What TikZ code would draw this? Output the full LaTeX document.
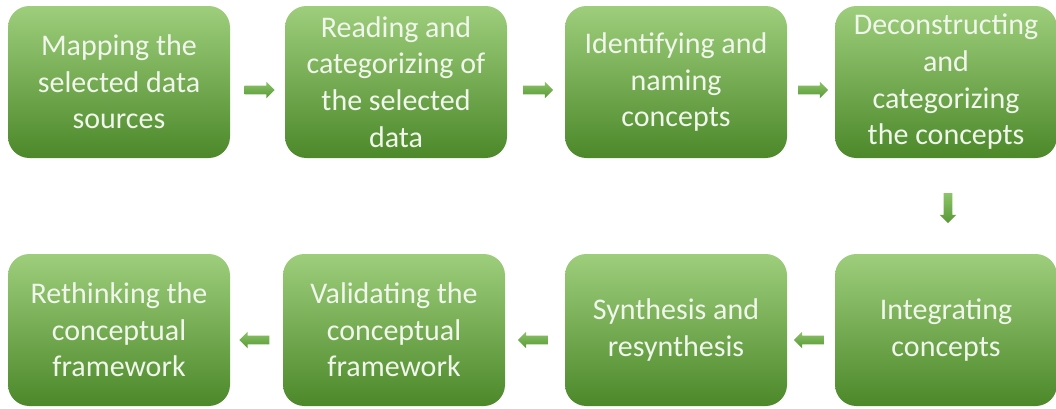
\documentclass[tikz,border=0pt]{standalone}
\usepackage{fontspec}
\setmainfont{Carlito}
\usetikzlibrary{calc,shapes.arrows}

\definecolor{boxtop}{RGB}{158,206,124}
\definecolor{boxbot}{RGB}{76,136,42}
\definecolor{boxtext}{RGB}{240,246,235}
\definecolor{arrtop}{RGB}{140,196,104}
\definecolor{arrbot}{RGB}{88,152,54}

\tikzset{
  stepbox/.style={
    rectangle, rounded corners=16pt,
    minimum width=166.5pt, minimum height=114pt,
    inner sep=2pt, align=center, text=boxtext,
    top color=boxtop, bottom color=boxbot, draw=none,
    font=\fontsize{22.5}{27.5}\selectfont
  },
  flowarrow/.style={
    single arrow, draw=none, inner sep=3pt,
    minimum height=22.5pt,
    single arrow head extend=3pt,
    top color=arrtop, bottom color=arrbot
  }
}

\begin{document}
\begin{tikzpicture}[x=0.75pt,y=-0.75pt]
  \useasboundingbox (0,0) rectangle (1056,408);

  % first row, left to right
  \node[stepbox] (b1) at (119,82)  {Mapping the\\selected data\\sources};
  \node[stepbox] (b2) at (396,82)  {Reading and\\categorizing of\\the selected\\data};
  \node[stepbox] (b3) at (676,82)  {Identifying and\\naming\\concepts};
  \node[stepbox] (b4) at (946,82)  {Deconstructing\\and\\categorizing\\the concepts};

  % second row, right to left
  \node[stepbox] (b5) at (946,330) {Integrating\\concepts};
  \node[stepbox] (b6) at (676,330) {Synthesis and\\resynthesis};
  \node[stepbox] (b7) at (394,330) {Validating the\\conceptual\\framework};
  \node[stepbox] (b8) at (119,330) {Rethinking the\\conceptual\\framework};

  % block arrows between the steps
  \node[flowarrow] (a12) at ($(b1.east)!0.5!(b2.west)+(0,8)$) {};
  \node[flowarrow] (a23) at ($(b2.east)!0.5!(b3.west)+(0,8)$) {};
  \node[flowarrow] (a34) at ($(b3.east)!0.5!(b4.west)+(0,8)$) {};
  \node[flowarrow, shape border rotate=270] (a45) at ($(b4.south)!0.5!(b5.north)+(2,0)$) {};
  \node[flowarrow, shape border rotate=180] (a56) at ($(b5.west)!0.5!(b6.east)+(0,10)$) {};
  \node[flowarrow, shape border rotate=180] (a67) at ($(b6.west)!0.5!(b7.east)+(0,10)$) {};
  \node[flowarrow, shape border rotate=180] (a78) at ($(b7.west)!0.5!(b8.east)+(0,10)$) {};
\end{tikzpicture}
\end{document}
